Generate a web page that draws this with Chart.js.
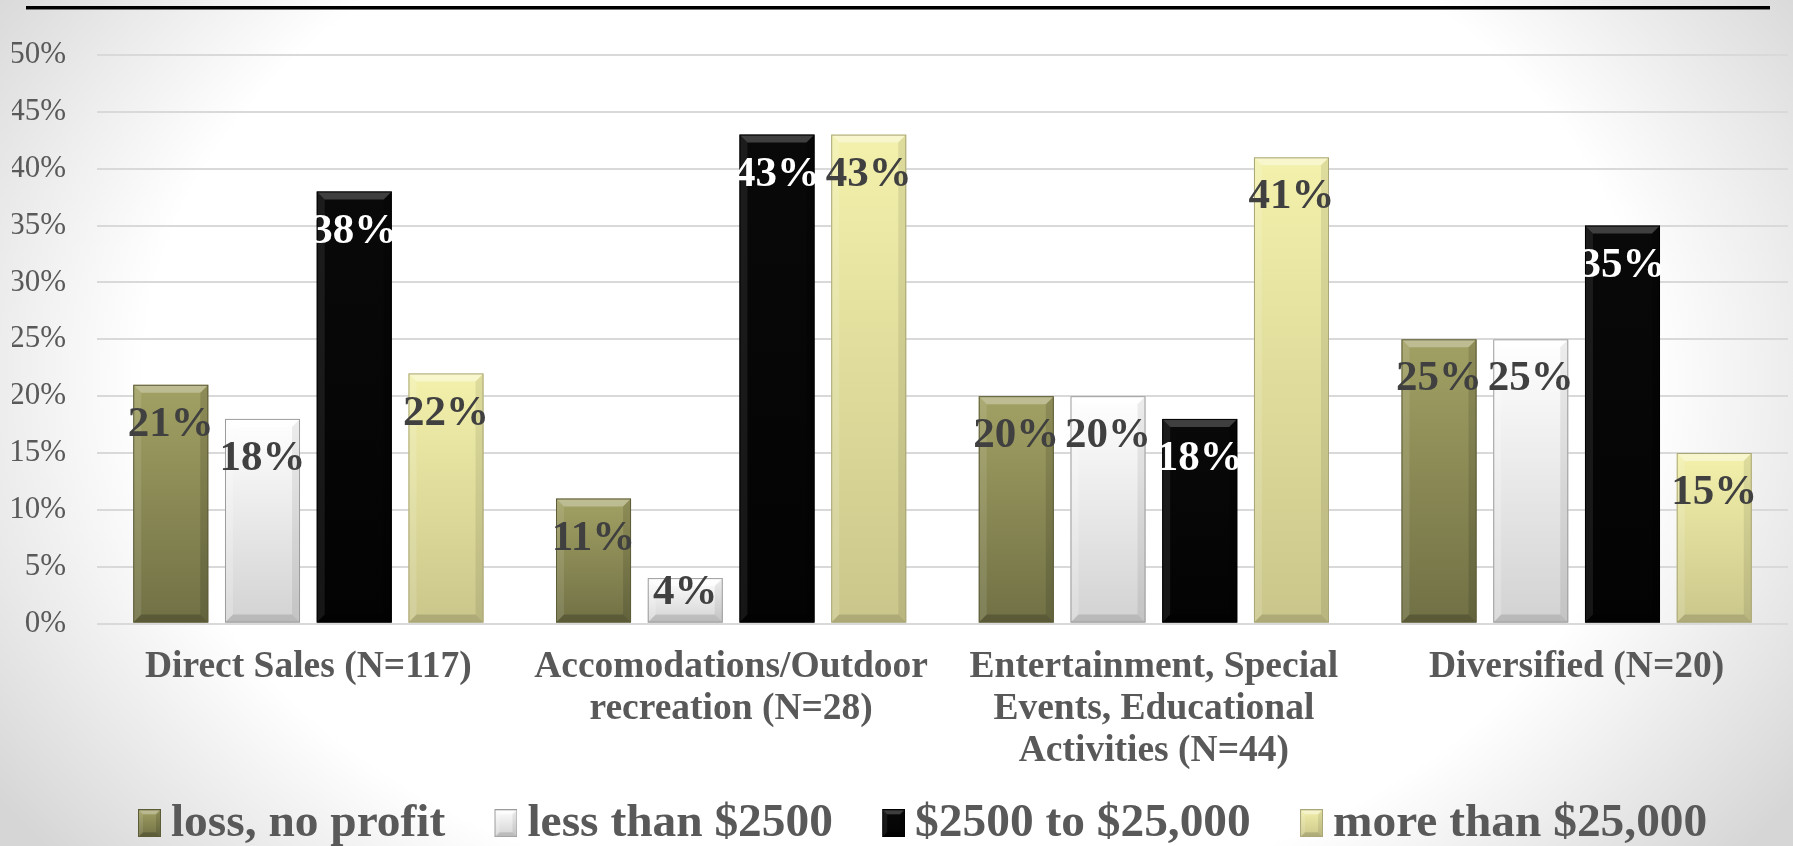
<!DOCTYPE html>
<html>
<head>
<meta charset="utf-8">
<title>Profit by enterprise type</title>
<script src="https://cdn.jsdelivr.net/npm/chart.js@4.4.1/dist/chart.umd.min.js"></script>
<style>
  html, body { margin: 0; padding: 0; }
  body {
    width: 1793px; height: 846px; overflow: hidden; position: relative;
    background: radial-gradient(ellipse 60% 90% at 50% 45%, #ffffff 70%, #d6d6d6 100%);
  }
  #rule { position: absolute; left: 26px; top: 6px; width: 1744px; height: 3px; background: #000; border-bottom: 1px solid #777; }
  #wrap { position: absolute; left: 0; top: 0; width: 1793px; height: 857px; }
</style>
</head>
<body>
<div id="rule"></div>
<div id="wrap"><canvas id="chart"></canvas></div>
<script>
// Enterprise categories (multi-line axis labels)
const categories = [
  ["Direct Sales (N=117)"],
  ["Accomodations/Outdoor", "recreation (N=28)"],
  ["Entertainment, Special", "Events, Educational", "Activities (N=44)"],
  ["Diversified (N=20)"]
];

// Profit classes
const seriesNames = ["loss, no profit", "less than $2500", "$2500 to $25,000", "more than $25,000"];

// Share of enterprises in each profit class (%)
const lossNoProfit    = [21, 11, 20, 25];
const lessThan2500    = [18, 4, 20, 25];
const from2500To25000 = [38, 43, 18, 35];
const moreThan25000   = [22, 43, 41, 15];

// Value axis ticks (%)
const yTickValues = [0, 5, 10, 15, 20, 25, 30, 35, 40, 45, 50];

const FONT = '"Liberation Serif", "Times New Roman", serif';

const styles = [
  { top: '#a2a164', bottom: '#707045', border: '#5d5c39', label: '#404040', light: 0.30, dark: 0.20 },
  { top: '#ffffff', bottom: '#d2d2d2', border: '#9c9c9c', label: '#404040', light: 0.60, dark: 0.12 },
  { top: '#090909', bottom: '#030303', border: '#000000', label: '#ffffff', light: 0.22, dark: 0.30 },
  { top: '#f3f1ab', bottom: '#cac68b', border: '#a9a677', label: '#404040', light: 0.40, dark: 0.14 }
];

function barFill(style) {
  return (c) => {
    const chart = c.chart;
    const y = chart.scales && chart.scales.y;
    if (!y || c.raw == null || !isFinite(y.getPixelForValue(0))) return style.bottom;
    const top = y.getPixelForValue(c.raw);
    const base = y.getPixelForValue(0);
    if (!isFinite(top) || top === base) return style.bottom;
    const g = chart.ctx.createLinearGradient(0, top, 0, base);
    g.addColorStop(0, style.top);
    g.addColorStop(1, style.bottom);
    return g;
  };
}

function poly(ctx, pts) {
  ctx.beginPath();
  ctx.moveTo(pts[0][0], pts[0][1]);
  for (let i = 1; i < pts.length; i++) ctx.lineTo(pts[i][0], pts[i][1]);
  ctx.closePath();
  ctx.fill();
}

// Bevelled edges of a box
function bevel(ctx, l, t, r, b, size, st) {
  const s = Math.min(size, (b - t) / 2, (r - l) / 2);
  ctx.fillStyle = `rgba(255,255,255,${st.light})`;
  poly(ctx, [[l, t], [r, t], [r - s, t + s], [l + s, t + s]]);
  ctx.fillStyle = `rgba(255,255,255,${st.light * 0.35})`;
  poly(ctx, [[l, t], [l + s, t + s], [l + s, b - s], [l, b]]);
  ctx.fillStyle = `rgba(0,0,0,${st.dark * 0.6})`;
  poly(ctx, [[r, t], [r, b], [r - s, b - s], [r - s, t + s]]);
  ctx.fillStyle = `rgba(0,0,0,${st.dark})`;
  poly(ctx, [[l, b], [r, b], [r - s, b - s], [l + s, b - s]]);
  ctx.strokeStyle = st.border;
  ctx.lineWidth = 1;
  ctx.strokeRect(l + 0.5, t + 0.5, r - l - 1, b - t - 1);
}

// Legend swatch: a small bevelled square placed at the right end of the image
function makeSwatch(st) {
  const c = document.createElement('canvas');
  c.width = 82; c.height = 28;
  const x = c.getContext('2d');
  const l = 59, r = 82, t = 0, b = 28;
  const g = x.createLinearGradient(0, t, 0, b);
  g.addColorStop(0, st.top);
  g.addColorStop(1, st.bottom);
  x.fillStyle = g;
  x.fillRect(l, t, r - l, b - t);
  bevel(x, l, t, r, b, 5, st);
  return c;
}
const swatches = styles.map(makeSwatch);

// Bevel shading and value labels for the bars
const barDecor = {
  id: 'barDecor',
  afterDatasetsDraw(chart) {
    const ctx = chart.ctx;
    chart.data.datasets.forEach((ds, di) => {
      const meta = chart.getDatasetMeta(di);
      if (meta.hidden) return;
      const st = styles[di];
      meta.data.forEach((el) => {
        const p = el.getProps(['x', 'y', 'base', 'width'], true);
        ctx.save();
        bevel(ctx, p.x - p.width / 2, p.y, p.x + p.width / 2, p.base, 8, st);
        ctx.restore();
      });
    });
    chart.data.datasets.forEach((ds, di) => {
      const meta = chart.getDatasetMeta(di);
      if (meta.hidden) return;
      const st = styles[di];
      meta.data.forEach((el, i) => {
        const p = el.getProps(['x', 'y', 'base', 'width'], true);
        const cy = Math.min(p.y + 40, p.base - 30);
        ctx.save();
        ctx.font = 'bold 43px ' + FONT;
        ctx.fillStyle = st.label;
        ctx.textAlign = 'center';
        ctx.textBaseline = 'middle';
        ctx.fillText(ds.data[i] + '%', p.x, cy);
        ctx.restore();
      });
    });
  }
};

const seriesValues = [lossNoProfit, lessThan2500, from2500To25000, moreThan25000];

new Chart(document.getElementById('chart'), {
  type: 'bar',
  data: {
    labels: categories,
    datasets: seriesValues.map((vals, i) => ({
      label: seriesNames[i],
      data: vals,
      backgroundColor: barFill(styles[i]),
      borderWidth: 0,
      categoryPercentage: 0.868,
      barPercentage: 0.818
    }))
  },
  options: {
    responsive: true,
    maintainAspectRatio: false,
    animation: false,
    layout: { padding: { left: 12, right: 5, top: 55, bottom: 0 } },
    scales: {
      x: {
        grid: { display: false, drawTicks: false },
        border: { display: false },
        ticks: {
          padding: 23,
          color: '#595959',
          autoSkip: false,
          maxRotation: 0,
          font: { family: FONT, size: 37.5, weight: 'bold', lineHeight: 1.12 }
        },
        afterFit(scale) { scale.height = 172; }
      },
      y: {
        min: 0,
        max: 50,
        afterBuildTicks(scale) { scale.ticks = yTickValues.map(v => ({ value: v })); },
        afterFit(scale) { scale.width = 85; },
        grid: { color: '#d9d9d9', lineWidth: 2, drawTicks: false },
        border: { display: false },
        ticks: {
          padding: 31,
          color: '#595959',
          font: { family: FONT, size: 31 },
          callback: v => v + '%'
        }
      }
    },
    plugins: {
      tooltip: { enabled: false },
      legend: {
        position: 'bottom',
        labels: {
          usePointStyle: true,
          pointStyleWidth: 54.5,
          padding: 4,
          color: '#595959',
          font: { family: FONT, size: 47.4, weight: 'bold' },
          generateLabels(chart) {
            const items = Chart.defaults.plugins.legend.labels.generateLabels(chart);
            return items.map((it, i) => Object.assign(it, { pointStyle: swatches[i], lineWidth: 0 }));
          }
        }
      }
    }
  },
  plugins: [barDecor]
});
</script>
</body>
</html>
